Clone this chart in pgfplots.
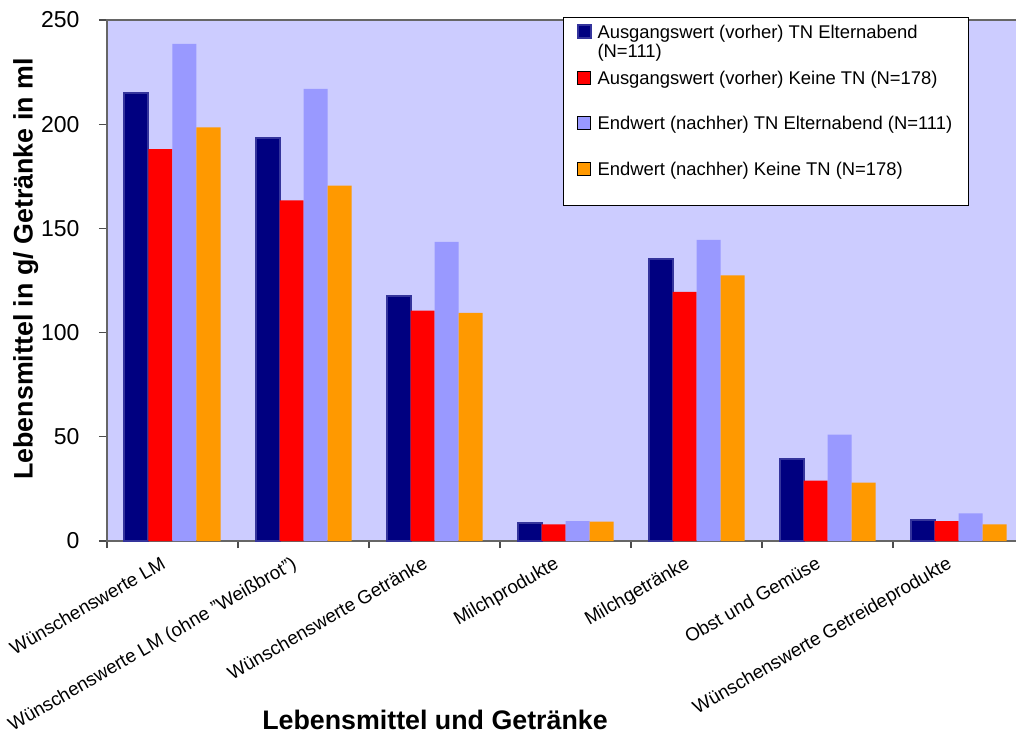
\documentclass[border=0pt]{standalone}
\usepackage{fontspec}
\setmainfont{Liberation Sans}
\usepackage{pgfplots}
\pgfplotsset{compat=1.18}
\definecolor{bg}{HTML}{CCCCFF}
\definecolor{cnavy}{HTML}{000080}
\definecolor{cnavyedge}{HTML}{34349C}
\definecolor{cred}{HTML}{FF0000}
\definecolor{cpurple}{HTML}{9999FF}
\definecolor{corange}{HTML}{FF9900}
\begin{document}
\begin{tikzpicture}
\begin{axis}[
  name=ax,
  scale only axis,
  width=458.5pt, height=260.5pt,
  xmin=-0.5, xmax=6.5, ymin=0, ymax=250,
  ybar=0pt, bar width=12pt,
  axis background/.style={fill=bg},
  axis line style={draw=black!60, line width=0.8pt},
  xtick={0,...,6},
  xticklabels={Wünschenswerte LM, Wünschenswerte LM (ohne "Weißbrot"), Wünschenswerte Getränke, Milchprodukte, Milchgetränke, Obst und Gemüse, Wünschenswerte Getreideprodukte},
  major x tick style={draw=none},
  minor xtick={-0.5,0.5,...,5.5},
  minor tick length=3.5pt,
  minor x tick style={draw=black!70, line width=0.6pt},
  ytick={0,50,...,250},
  major tick length=4pt,
  y tick style={draw=black!70, line width=0.6pt},
  tick align=outside,
  xtick pos=bottom, ytick pos=left,
  /pgf/number format/assume math mode=true,
  yticklabel style={font=\fontsize{11.5}{13}\selectfont, xshift=-6.2pt},
  xticklabel style={font=\fontsize{9.4}{11}\selectfont, inner sep=0pt, xshift=-6.25pt, yshift=-3pt, rotate=30, anchor=north east},
  xlabel={Lebensmittel und Getränke},
  ylabel={Lebensmittel in g/ Getränke in ml},
  xlabel style={font=\fontsize{13.4}{15}\selectfont\bfseries, at={(axis description cs:0.3577,-0.3436)}, anchor=center},
  ylabel style={font=\fontsize{13.4}{15}\selectfont\bfseries, at={(axis description cs:-0.0885,0.522)}, anchor=center},
  every axis plot post/.append style={legend image code/.code={\draw[##1] (0pt,0pt) rectangle (6.5pt,6.5pt);}},
  legend style={at={(axis description cs:0.4973,1.0058)}, anchor=north west,
    fill=white, draw=black, line width=0.5pt, inner xsep=6.5pt, inner ysep=2pt,
    row sep=0pt, column sep=1.5pt,
    font=\fontsize{9.2}{9.5}\selectfont,
    cells={anchor=base west},
    nodes={inner xsep=1.5pt, inner ysep=0pt, text depth={}}},
]
\addplot[fill=cnavy, draw=cnavyedge, line width=1pt] coordinates {(0,215) (1,193.5) (2,117.5) (3,8.5) (4,135.5) (5,39.5) (6,10)};
\addlegendentry{\vtop{\baselineskip=9.5pt\hbox{\rule{0pt}{8.5pt}Ausgangswert (vorher) TN Elternabend}\hbox{(N=111)\rule[-7pt]{0pt}{7pt}}}}
\addplot[fill=cred, draw=none] coordinates {(0,188) (1,163.5) (2,110.5) (3,8) (4,119.5) (5,29) (6,9.5)};
\addlegendentry{\rule[-15.5pt]{0pt}{7pt}Ausgangswert (vorher) Keine TN (N=178)}
\addplot[fill=cpurple, draw=none] coordinates {(0,238.5) (1,217) (2,143.5) (3,9.5) (4,144.5) (5,51) (6,13.3)};
\addlegendentry{\rule[-16.5pt]{0pt}{7pt}Endwert (nachher) TN Elternabend (N=111)}
\addplot[fill=corange, draw=none] coordinates {(0,198.5) (1,170.5) (2,109.5) (3,9.3) (4,127.5) (5,28) (6,8)};
\addlegendentry{\rule[-13pt]{0pt}{7pt}Endwert (nachher) Keine TN (N=178)}
\end{axis}
\pgfresetboundingbox
\useasboundingbox ([xshift=-53.5pt,yshift=-97pt]ax.south west) rectangle ([xshift=454.5pt,yshift=10pt]ax.north west);
\end{tikzpicture}
\end{document}
